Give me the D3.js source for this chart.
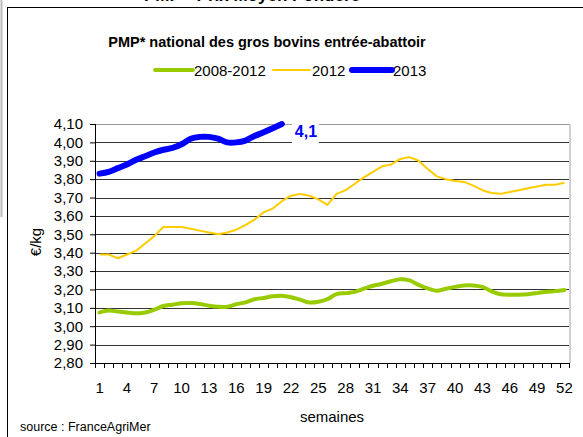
<!DOCTYPE html>
<html>
<head>
<meta charset="utf-8">
<script src="https://cdn.jsdelivr.net/npm/d3@7"></script>
<style>
  body { margin: 0; background: #fff; }
  svg { display: block; font-family: "Liberation Sans", Arial, sans-serif; }
</style>
</head>
<body>
<div id="chart"></div>
<script>
// weeks 1..52
const weeks = d3.range(1, 53)
const weekLabels = [1, 4, 7, 10, 13, 16, 19, 22, 25, 28, 31, 34, 37, 40, 43, 46, 49, 52]
const yTicks = [2.8, 2.9, 3.0, 3.1, 3.2, 3.3, 3.4, 3.5, 3.6, 3.7, 3.8, 3.9, 4.0, 4.1]

// 5-year average 2008-2012
const avg0812 = [3.075, 3.085, 3.08, 3.075, 3.07, 3.075, 3.09, 3.11, 3.117, 3.125,
  3.126, 3.121, 3.112, 3.106, 3.106, 3.12, 3.13, 3.147, 3.154, 3.163,
  3.166, 3.158, 3.145, 3.129, 3.133, 3.147, 3.175, 3.18, 3.187, 3.204,
  3.22, 3.231, 3.245, 3.255, 3.249, 3.225, 3.206, 3.193, 3.204, 3.214,
  3.222, 3.222, 3.214, 3.19, 3.174, 3.171, 3.171, 3.174, 3.18, 3.187,
  3.191, 3.197]

const y2012 = [3.39, 3.39, 3.37, 3.39, 3.41, 3.45, 3.49, 3.54, 3.54, 3.54,
  3.53, 3.52, 3.51, 3.50, 3.51, 3.525, 3.55, 3.58, 3.62, 3.64,
  3.68, 3.71, 3.72, 3.71, 3.69, 3.66, 3.72, 3.74, 3.775, 3.81,
  3.84, 3.87, 3.88, 3.91, 3.92, 3.90, 3.855, 3.815, 3.80, 3.79,
  3.785, 3.765, 3.74, 3.725, 3.72, 3.73, 3.74, 3.75, 3.76, 3.77,
  3.77, 3.78]

const y2013 = [3.83, 3.84, 3.86, 3.88, 3.905, 3.925, 3.945, 3.96, 3.97, 3.99,
  4.02, 4.03, 4.03, 4.02, 4.00, 4.00, 4.01, 4.035, 4.055, 4.077, 4.10]

const seriesNames = ["2008-2012", "2012", "2013"]
const seriesColors = ["#99cc00", "#ffcc00", "#0000ff"]

const W = 583, H = 437
const margin = {top: 124, right: 14, bottom: 74, left: 95}
const width = W - margin.left - margin.right,
      height = H - margin.top - margin.bottom

const svg = d3.select("#chart").append("svg")
  .attr("width", W)
  .attr("height", H)

// outer frames
svg.append("line")
  .attr("x1", 1.5).attr("x2", 1.5).attr("y1", 0).attr("y2", 217)
  .attr("stroke", "#bbb").attr("stroke-width", 2)
svg.append("rect")
  .attr("x", 7.5).attr("y", 7.5).attr("width", W + 10).attr("height", H + 10)
  .attr("fill", "none").attr("stroke", "#000").attr("stroke-width", 1)

// page title, cut off by the top edge as in the source picture
svg.append("text")
  .attr("x", 252).attr("y", 1)
  .attr("text-anchor", "middle")
  .style("font-size", "17px").style("font-weight", "bold")
  .text("PMP * Prix Moyen Pondéré")

// chart title
svg.append("text")
  .attr("x", 267).attr("y", 47)
  .attr("text-anchor", "middle")
  .style("font-size", "14.5px").style("font-weight", "bold")
  .text("PMP* national des gros bovins entrée-abattoir")

// legend
const legend = [
  {x1: 155, x2: 193, tx: 194, w: 4},
  {x1: 273, x2: 310, tx: 312, w: 2},
  {x1: 352, x2: 392, tx: 393, w: 6}
]
legend.forEach(function(d, i) {
  svg.append("line")
    .attr("x1", d.x1).attr("x2", d.x2).attr("y1", 70).attr("y2", 70)
    .attr("stroke", seriesColors[i]).attr("stroke-width", d.w)
    .attr("stroke-linecap", "round")
  svg.append("text")
    .attr("x", d.tx).attr("y", 75.5)
    .style("font-size", "15px")
    .text(seriesNames[i])
})

const g = svg.append("g")
  .attr("transform", "translate(" + margin.left + "," + margin.top + ")")

const x = d3.scaleBand().domain(weeks).range([0, width])
const xc = function(w) { return x(w) + x.bandwidth() / 2 }
const y = d3.scaleLinear().domain([2.8, 4.1]).range([height, 0])

// plot area right border
g.append("line")
  .attr("x1", width + 1).attr("x2", width + 1).attr("y1", 0).attr("y2", height)
  .attr("stroke", "#d0d0d0").attr("stroke-width", 2)

// gridlines
g.selectAll(".grid")
  .data(yTicks.slice(1))
  .enter().append("line")
  .attr("x1", 0).attr("x2", width)
  .attr("y1", function(d) { return Math.round(y(d)) + 0.5 })
  .attr("y2", function(d) { return Math.round(y(d)) + 0.5 })
  .attr("stroke", function(d, i) { return i === yTicks.length - 2 ? "#999" : "#333" })
  .attr("stroke-width", 1)

// Y axis
const yAxis = g.append("g")
  .call(d3.axisLeft(y).tickValues(yTicks).tickSize(5).tickPadding(7)
    .tickFormat(function(d) { return d3.format(".2f")(d).replace(".", ",") }))
yAxis.select(".domain").attr("d", "M0.5,0V" + height)
yAxis.selectAll("text").style("font-size", "15px").attr("fill", "#000")

// X axis with ticks on band boundaries
const xAxis = g.append("g")
  .attr("transform", "translate(0," + height + ")")
  .call(d3.axisBottom(x).tickValues(weekLabels).tickSize(0).tickPadding(19))
xAxis.select(".domain").attr("d", "M0," + 0.5 + "H" + width)
xAxis.selectAll("text").style("font-size", "15px").attr("fill", "#000")
g.selectAll(".xtick")
  .data(d3.range(0, 53))
  .enter().append("line")
  .attr("x1", function(i) { return Math.round(i * x.step()) + 0.5 })
  .attr("x2", function(i) { return Math.round(i * x.step()) + 0.5 })
  .attr("y1", height).attr("y2", height + 5)
  .attr("stroke", "#000")

// axis titles
svg.append("text")
  .attr("transform", "translate(41,242) rotate(-90)")
  .attr("text-anchor", "middle")
  .style("font-size", "15px")
  .text("€/kg")
svg.append("text")
  .attr("x", 332).attr("y", 422)
  .attr("text-anchor", "middle")
  .style("font-size", "15px")
  .text("semaines")
svg.append("text")
  .attr("x", 20).attr("y", 431)
  .style("font-size", "12.5px")
  .text("source : FranceAgriMer")

// lines
const smooth = d3.line()
  .x(function(d, i) { return xc(weeks[i]) })
  .y(function(d) { return y(d) })
  .curve(d3.curveCatmullRom)
const straight = d3.line()
  .x(function(d, i) { return xc(weeks[i]) })
  .y(function(d) { return y(d) })

g.append("path").datum(avg0812)
  .attr("d", smooth)
  .attr("fill", "none").attr("stroke", seriesColors[0]).attr("stroke-width", 4)
  .attr("stroke-linejoin", "round").attr("stroke-linecap", "round")

g.append("path").datum(y2012)
  .attr("d", straight)
  .attr("fill", "none").attr("stroke", seriesColors[1]).attr("stroke-width", 2)
  .attr("stroke-linejoin", "round")

g.append("path").datum(y2013)
  .attr("d", smooth)
  .attr("fill", "none").attr("stroke", seriesColors[2]).attr("stroke-width", 6)
  .attr("stroke-linejoin", "round").attr("stroke-linecap", "round")

// data label for the last 2013 point
const last = y2013.length - 1
const lx = xc(weeks[last]) + 10, ly = y(y2013[last])
g.append("rect")
  .attr("x", lx).attr("y", ly - 9).attr("width", 27).attr("height", 28)
  .attr("fill", "#fff")
g.append("text")
  .attr("x", lx + 3).attr("y", ly + 13)
  .attr("fill", seriesColors[2])
  .style("font-size", "16px").style("font-weight", "bold")
  .text(String(y2013[last]).replace(".", ","))
</script>
</body>
</html>
